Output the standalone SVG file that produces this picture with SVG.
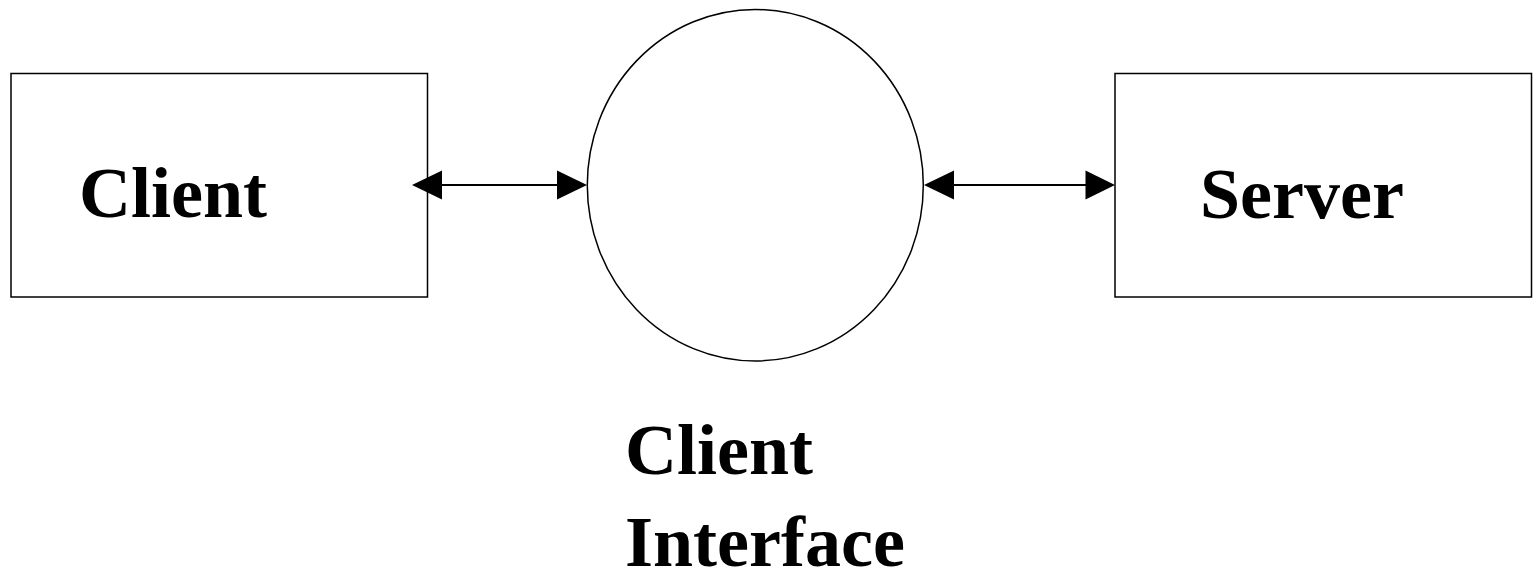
<svg xmlns="http://www.w3.org/2000/svg" width="1533" height="570" viewBox="0 0 1533 570">
  <style>
    .box { fill: #fff; stroke: #000; stroke-width: 1.5; }
    .link { stroke: #000; stroke-width: 2; fill: none; }
    .head { fill: #000; }
    .label { font-family: "Liberation Serif", "Times New Roman", serif; font-weight: bold; font-size: 72px; fill: #000; }
  </style>
  <rect width="1533" height="570" fill="#fff"/>

  <g id="client">
    <rect class="box" x="11" y="73.5" width="416.5" height="223.5"/>
    <text class="label" x="79" y="217">Client</text>
  </g>

  <g id="client-interface">
    <ellipse class="box" cx="755.3" cy="185.2" rx="168" ry="175.8"/>
    <text class="label" x="625" y="474">Client</text>
    <text class="label" x="625" y="566">Interface</text>
  </g>

  <g id="server">
    <rect class="box" x="1115" y="73.5" width="416.5" height="223.5"/>
    <text class="label" x="1200" y="218">Server</text>
  </g>

  <g id="connectors">
    <line class="link" x1="440" y1="185" x2="560" y2="185"/>
    <polygon class="head" points="412,185 442,170.5 442,199.5"/>
    <polygon class="head" points="587,185 557,170.5 557,199.5"/>

    <line class="link" x1="952" y1="185" x2="1088" y2="185"/>
    <polygon class="head" points="924,185 954,170.5 954,199.5"/>
    <polygon class="head" points="1115,185 1085.5,170.5 1085.5,199.5"/>
  </g>
</svg>
